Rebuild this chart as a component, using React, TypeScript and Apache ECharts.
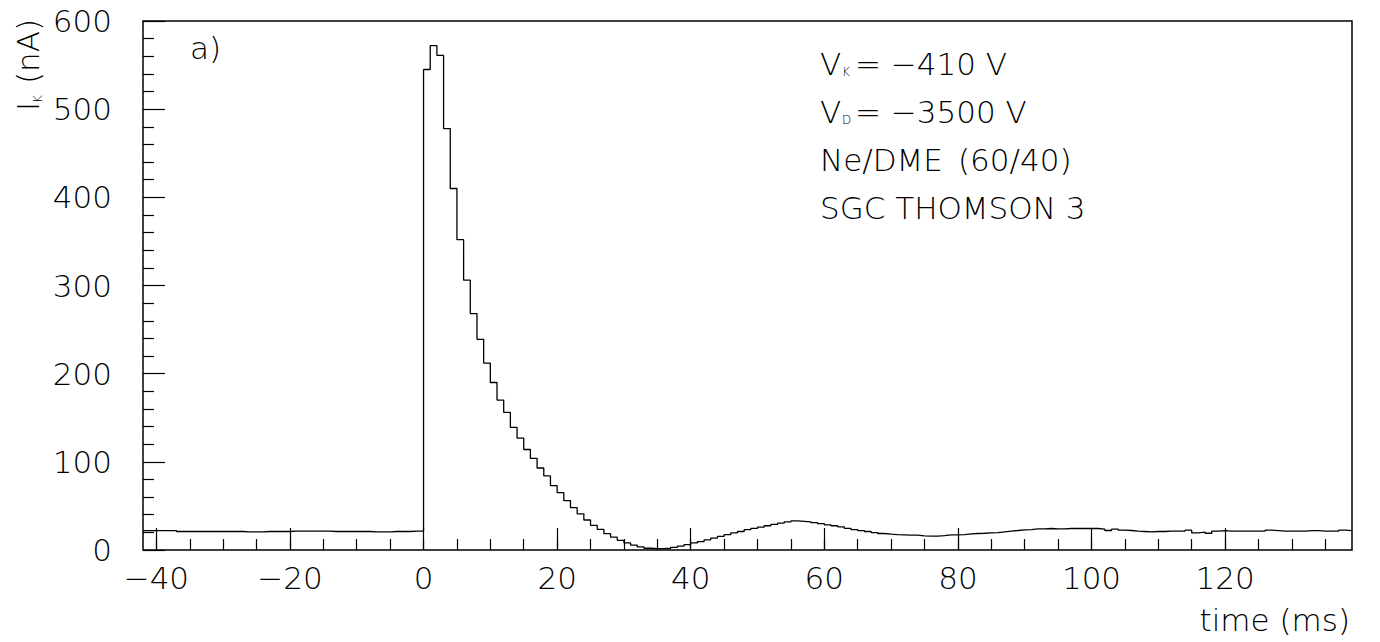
import React, { useEffect, useRef } from "react";
import * as echarts from "echarts";

// Histogram: 1 ms bins starting at binStart
const binStart = -42;
// bins -42 .. -1
const preTriggerBins = [22, 22, 22, 22, 22, 21, 21, 21, 21, 21, 21, 21, 21, 21, 21, 20.5, 20.5, 20.5, 21, 21, 21, 21, 21.5, 21.5, 21.5, 21.5, 21.5, 21.5, 21, 21, 21, 21, 21, 21, 20.5, 20.5, 20.5, 21, 21, 21, 21.5, 21.5];
// bins 0 .. 33
const pulseBins = [545, 572, 561, 478, 410, 352, 306, 268, 239, 212, 190, 170, 156, 139, 127, 114, 104, 93, 84, 73, 65, 56, 48, 41, 34, 28, 23.5, 18.5, 14.5, 11, 8, 5.5, 3.5, 2];
// bins 34 .. 85
const recoveryBins = [1.5, 1.5, 2, 3, 4.5, 6, 8, 9.5, 11.5, 13.5, 15.5, 17.5, 19.5, 21, 23, 24.5, 26, 27.5, 29, 30.5, 32, 33, 32.5, 32, 31, 30, 28.5, 27.5, 26.3, 24.5, 23.2, 22, 21, 19.8, 18.7, 18, 17.5, 17.2, 16.8, 16.8, 16, 15.7, 15.7, 16.4, 17.2, 17.2, 17.5, 18.3, 18.7, 19, 19.4, 19.8];
// bins 86 .. 138
const tailBins = [20.6, 21.4, 22.1, 22.9, 23.2, 24, 24, 24.4, 24, 24, 24.4, 24.4, 24.4, 24.4, 24.4, 23.6, 22.1, 23.6, 22.5, 22.1, 21.4, 21, 20.6, 21, 21, 21.4, 21.4, 21.4, 22.5, 19.4, 20.2, 19, 21.4, 22, 21.5, 21.5, 21.5, 21.5, 21.5, 21.5, 22.5, 22, 21.5, 21.5, 21.5, 21.5, 22, 22, 21.5, 21.5, 21.5, 22.5, 22];

const xMajorTicks = [-40, -20, 0, 20, 40, 60, 80, 100, 120];
const xMinorTicks = [-40, -35, -30, -25, -20, -15, -10, -5, 0, 5, 10, 15, 20, 25, 30, 35, 40, 45, 50, 55, 60, 65, 70, 75, 80, 85, 90, 95, 100, 105, 110, 115, 120, 125, 130, 135];
const xMin = -42;
const xMax = 139;
const yMin = 0;
const yMax = 600;
const yStep = 100;

const FONT = "DejaVu Sans";
const FW = 200;
const FS = 31;

function fmtMinus(v: number) {
  return v < 0 ? "\u2212" + Math.abs(v) : String(v);
}

export default function App() {
  const ref = useRef<HTMLDivElement>(null);
  useEffect(() => {
    if (!ref.current) return;
    const chart = echarts.init(ref.current, null, { renderer: "svg" });
    const values = [...preTriggerBins, ...pulseBins, ...recoveryBins, ...tailBins];
    const data: number[][] = values.map((v, i) => [binStart + i, v]);
    data.push([binStart + values.length, values[values.length - 1]]);

    const txt = (extra: any) => ({
      fill: "#000",
      fontFamily: FONT,
      fontWeight: FW,
      fontSize: FS,
      verticalAlign: "middle",
      align: "left",
      ...extra,
    });

    chart.setOption({
      animation: false,
      backgroundColor: "#fff",
      grid: {
        left: 143,
        top: 21,
        right: 28,
        bottom: 92,
        show: true,
        borderColor: "#000",
        borderWidth: 1.5,
        backgroundColor: "transparent",
      },
      xAxis: [
        {
          type: "value",
          min: xMin,
          max: xMax,
          position: "bottom",
          axisLine: { show: false, onZero: false },
          splitLine: { show: false },
          axisTick: {
            show: true,
            inside: true,
            length: 22,
            customValues: xMajorTicks,
            lineStyle: { color: "#000", width: 1.2 },
          },
          axisLabel: {
            show: true,
            customValues: xMajorTicks,
            formatter: (v: number) => fmtMinus(v),
            color: "#000",
            fontFamily: FONT,
            fontWeight: FW,
            fontSize: FS,
            margin: 12,
          },
        },
        {
          type: "value",
          min: xMin,
          max: xMax,
          position: "bottom",
          offset: 0,
          axisLine: { show: false, onZero: false },
          splitLine: { show: false },
          axisTick: {
            show: true,
            inside: true,
            length: 11,
            customValues: xMinorTicks,
            lineStyle: { color: "#000", width: 1.2 },
          },
          axisLabel: { show: false },
        },
      ],
      yAxis: {
        type: "value",
        min: yMin,
        max: yMax,
        interval: yStep,
        position: "left",
        axisLine: { show: false, onZero: false },
        splitLine: { show: false },
        axisTick: {
          show: true,
          inside: true,
          length: 22,
          lineStyle: { color: "#000", width: 1.2 },
        },
        minorTick: {
          show: true,
          splitNumber: 5,
          length: 11,
          lineStyle: { color: "#000", width: 1.2 },
        },
        axisLabel: {
          color: "#000",
          fontFamily: FONT,
          fontWeight: FW,
          fontSize: FS,
          margin: 31,
        },
      },
      series: [
        {
          type: "line",
          step: "end",
          xAxisIndex: 0,
          data,
          showSymbol: false,
          symbol: "none",
          silent: true,
          lineStyle: { color: "#000", width: 1.3 },
        },
      ],
      graphic: [
        { type: "text", x: 190, y: 48, style: txt({ text: "a)" }) },
        { type: "text", x: 820, y: 64, style: txt({ text: "V" }) },
        { type: "text", x: 842, y: 72, style: txt({ text: "K", fontSize: 12 }) },
        { type: "text", x: 855, y: 64, style: txt({ text: "= \u2212410 V" }) },
        { type: "text", x: 820, y: 112, style: txt({ text: "V" }) },
        { type: "text", x: 842, y: 120, style: txt({ text: "D", fontSize: 12 }) },
        { type: "text", x: 855, y: 112, style: txt({ text: "= \u22123500 V" }) },
        { type: "text", x: 820, y: 160, style: txt({ text: "Ne/DME" }) },
        { type: "text", x: 958, y: 160, style: txt({ text: "(60/40)" }) },
        { type: "text", x: 820, y: 208, style: txt({ text: "SGC THOMSON 3" }) },
        {
          type: "text",
          x: 1350,
          y: 620,
          style: txt({ text: "time (ms)", align: "right" }),
        },
        {
          type: "group",
          x: 28,
          y: 108,
          rotation: Math.PI / 2,
          children: [
            { type: "text", x: -3, y: 0, style: txt({ text: "I" }) },
            { type: "text", x: 5, y: 10, style: txt({ text: "K", fontSize: 12 }) },
            { type: "text", x: 24, y: 0, style: txt({ text: "(nA)" }) },
          ],
        },
      ],
    });
    return () => chart.dispose();
  }, []);
  return (
    <div
      ref={ref}
      style={{ position: "fixed", left: 0, top: 0, width: 1380, height: 642 }}
    />
  );
}
